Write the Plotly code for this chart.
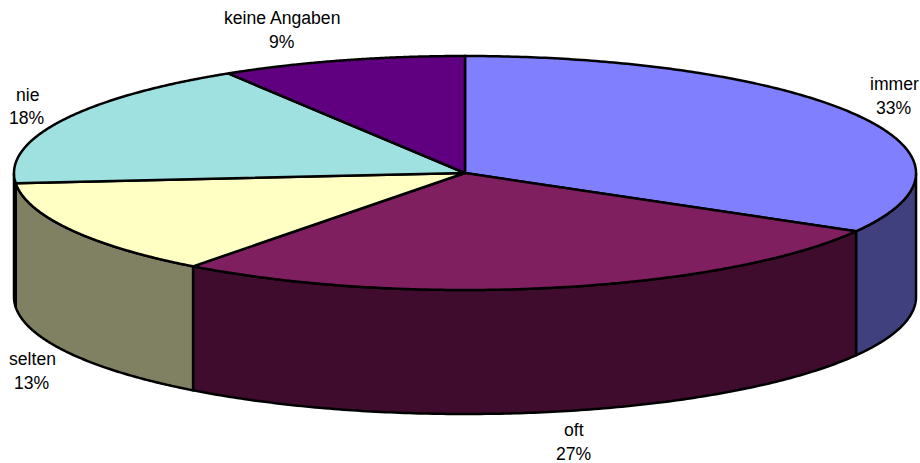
import numpy as np
import plotly.graph_objects as go

categories = ["immer", "oft", "selten", "nie", "keine Angaben"]
values = [33.3, 27.0, 13.3, 17.6, 8.8]
top_colors = ["#8080FF", "#7F1F5F", "#FFFFC4", "#9FE1E1", "#600080"]
side_colors = ["#40407F", "#3F0C2E", "#808062", "#507070", "#300040"]

W, H = 920, 463
CX, CY, RX, RY, DEPTH = 465, 173, 451, 117, 124
# label centre x, name line y, percent line y
label_pos = [(894, 84, 108), (574, 430, 454), (32, 359, 383), (27, 95, 118), (282, 18, 42)]


def rim(a, b, n=160, dy=0.0):
    t = np.radians(np.linspace(a, b, n))
    return CX + RX * np.sin(t), CY - RY * np.cos(t) + dy


def poly(x, y, color, width=2.5):
    return go.Scatter(
        x=list(x), y=list(y), mode="lines", fill="toself", fillcolor=color,
        line=dict(color="#000000", width=width, simplify=False),
        hoverinfo="skip", showlegend=False,
    )


fig = go.Figure()
edges = np.concatenate([[0], np.cumsum(values) / np.sum(values) * 360])

# side walls (only the front half of the rim is visible)
for i in range(len(values)):
    a, b = max(edges[i], 90), min(edges[i + 1], 270)
    if b <= a:
        continue
    x1, y1 = rim(a, b)
    x2, y2 = rim(b, a, dy=DEPTH)
    fig.add_trace(poly(np.r_[x1, x2, x1[0]], np.r_[y1, y2, y1[0]], side_colors[i]))

# top faces
for i in range(len(values)):
    x, y = rim(edges[i], edges[i + 1], n=200)
    fig.add_trace(poly(np.r_[CX, x, CX], np.r_[CY, y, CY], top_colors[i]))

annotations = []
total = sum(values)
font = dict(family="Liberation Sans, Arial, sans-serif", size=17.6, color="#000000")
for name, v, (lx, y1, y2) in zip(categories, values, label_pos):
    for text, ly in ((name, y1), (f"{round(v / total * 100)}%", y2)):
        annotations.append(dict(x=lx, y=ly, xref="x", yref="y", showarrow=False,
                                align="center", text=text, font=font))

fig.update_layout(
    width=W, height=H, margin=dict(l=0, r=0, t=0, b=0, pad=0),
    paper_bgcolor="#FFFFFF", plot_bgcolor="#FFFFFF", showlegend=False,
    xaxis=dict(range=[0, W], visible=False, fixedrange=True),
    yaxis=dict(range=[H, 0], visible=False, fixedrange=True),
    annotations=annotations,
)
fig.write_html(
    "out.html", config={"displayModeBar": False}, default_width=W, default_height=H,
    post_script="document.body.style.margin='0';document.body.style.overflow='hidden';",
)
